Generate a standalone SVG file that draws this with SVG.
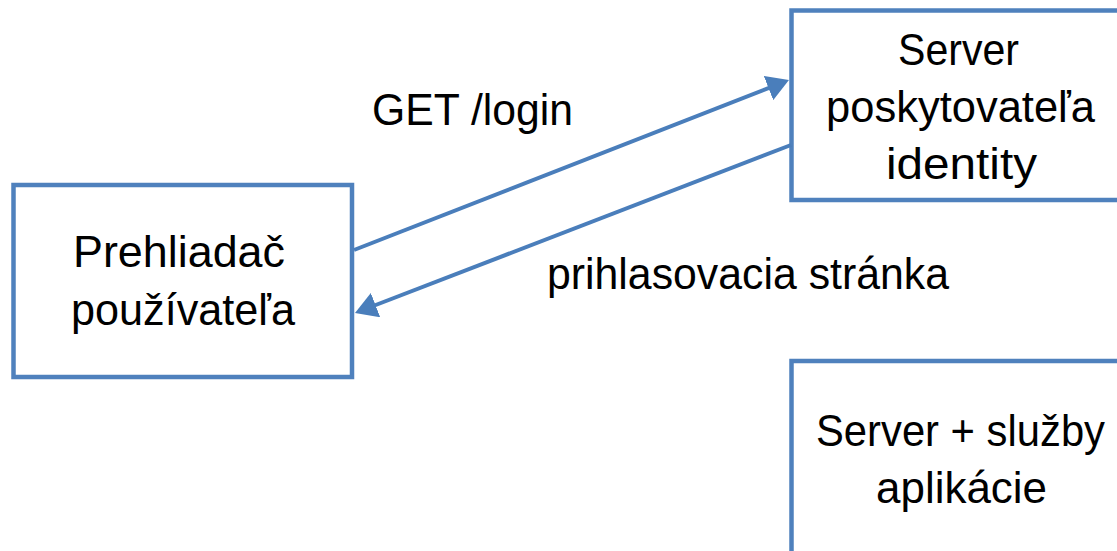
<svg xmlns="http://www.w3.org/2000/svg" width="1117" height="551" viewBox="0 0 1117 551">
  <style>
    .box { fill: #ffffff; stroke: #4F81BD; stroke-width: 4.5; }
    .lbl { font-family: "Liberation Sans", Arial, sans-serif; font-size: 43.5px; fill: #000000; }
    .conn { fill: none; stroke: #4A7EBB; stroke-width: 4; }
  </style>
  <defs>
    <marker id="arrow" viewBox="0 0 22 26" refX="4" refY="13" markerWidth="22" markerHeight="26" markerUnits="userSpaceOnUse" orient="auto">
      <path d="M0,0 L22,13 L0,26 Z" fill="#4A7EBB"/>
    </marker>
  </defs>
  <rect width="1117" height="551" fill="#ffffff"/>

  <g id="node-browser">
    <rect class="box" x="13.5" y="185" width="338.5" height="192"/>
    <text class="lbl" x="73" y="267" textLength="212" lengthAdjust="spacingAndGlyphs">Prehliadač</text>
    <text class="lbl" x="71" y="325" textLength="224" lengthAdjust="spacingAndGlyphs">používateľa</text>
  </g>

  <g id="node-idp">
    <rect class="box" x="791.5" y="10.5" width="338" height="189.5"/>
    <text class="lbl" x="898" y="65" textLength="121" lengthAdjust="spacingAndGlyphs">Server</text>
    <text class="lbl" x="826" y="122" textLength="269" lengthAdjust="spacingAndGlyphs">poskytovateľa</text>
    <text class="lbl" x="886" y="179" textLength="151" lengthAdjust="spacingAndGlyphs">identity</text>
  </g>

  <g id="node-app">
    <rect class="box" x="791.5" y="361" width="338" height="200"/>
    <text class="lbl" x="816" y="446" textLength="289" lengthAdjust="spacingAndGlyphs">Server + služby</text>
    <text class="lbl" x="876" y="503" textLength="171" lengthAdjust="spacingAndGlyphs">aplikácie</text>
  </g>

  <g id="connectors">
    <path class="conn" d="M354,250 L772.2,86.6" marker-end="url(#arrow)"/>
    <path class="conn" d="M791,145 L371.8,306.5" marker-end="url(#arrow)"/>
    <text class="lbl" x="372" y="125" textLength="201" lengthAdjust="spacingAndGlyphs">GET /login</text>
    <text class="lbl" x="547" y="289" textLength="402" lengthAdjust="spacingAndGlyphs">prihlasovacia stránka</text>
  </g>
</svg>
